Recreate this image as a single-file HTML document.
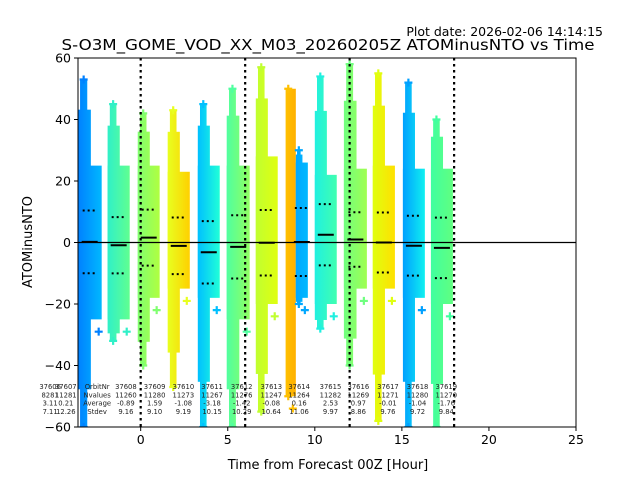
<!DOCTYPE html>
<html><head><meta charset="utf-8"><style>
html,body{margin:0;padding:0;background:#fff;}
svg{display:block;font-family:"DejaVu Sans","Liberation Sans",sans-serif;}
</style></head><body>
<svg id="chart" width="640" height="480" viewBox="0 0 640 480">
<defs id="defs"></defs>
<rect x="0" y="0" width="640" height="480" fill="#fff"/>
<text x="603" y="36" font-size="12.5" text-anchor="end">Plot date: 2026-02-06 14:14:15</text>
<text x="328" y="50" font-size="15.5" text-anchor="middle" textLength="533" lengthAdjust="spacingAndGlyphs">S-O3M_GOME_VOD_XX_M03_20260205Z ATOMinusNTO vs Time</text>
<g id="marks"></g>
<g id="axes"></g>
<text x="328" y="469" font-size="13" text-anchor="middle">Time from Forecast 00Z [Hour]</text>
<text x="32" y="242" font-size="13" text-anchor="middle" transform="rotate(-90 32 242)">ATOMinusNTO</text>
</svg>
<script>
// strips data (hours, values)
const stripStart = [-3.62,-1.90,-0.17,1.55,3.28,4.94,6.61,8.33,8.91,10.0,11.67,13.33,15.06,16.67];
const stripEnd   = [-2.24,-0.63,1.09,2.82,4.54,6.26,7.87,8.91,9.60,11.26,12.99,14.6,16.32,17.93];
const topL = [53,45,42,43,45,50,57,50,30,54,58,55,52,40];
const botL = [-60,-32,-40,-47,-60,-60,-55,-50,-20,-28,-40,-58,-60,-60];
const topR = [25,25,25,23,25,25,28,50,26,22,24,25,24,24];
const botR = [-25,-25,-18,-15,-18,-25,-20,-50,-18,-20,-15,-15,-18,-20];
const colA = ["#0080ff","#30f0c8","#80ff70","#e8ff20","#00c0ff","#50ffa0","#c0ff30","#ffc000","#00a8ff","#20f0e0","#70ff80","#e0ff10","#00a0ff","#40ffa0"];
const colB = ["#00b8ff","#60ff90","#b0ff40","#ffd000","#20ffd8","#90ff60","#e0ff10","#ffb000","#00b8ff","#40ffb0","#a0ff50","#ffe000","#10f0f0","#60ff80"];
const means = [0.21,-0.89,1.59,-1.08,-3.18,-1.42,-0.08,null,0.16,2.53,0.97,0.01,-1.04,-1.76];
const stds  = [10.2,9.16,9.10,9.19,10.15,10.29,10.64,null,11.06,9.97,8.86,9.76,9.72,9.84];
// statistics text
const orbitLabels = ["37606","37607","OrbitNr","37608","37609","37610","37611","37612","37613","37614","37615","37616","37617","37618","37619"];
const nValues = ["8281","11281","Nvalues","11260","11280","11273","11267","11276","11247","11264","11282","11269","11271","11280","11270"];
const avgText = ["3.11","0.21","Average","-0.89","1.59","-1.08","-3.18","-1.42","-0.08","0.16","2.53","0.97","-0.01","-1.04","-1.76"];
const stdText = ["7.11","12.26","Stdev","9.16","9.10","9.19","10.15","10.29","10.64","11.06","9.97","8.86","9.76","9.72","9.84"];
const labelHours = [-5.2,-4.3,-2.5,-0.85,0.8,2.45,4.1,5.8,7.5,9.1,10.9,12.5,14.2,15.9,17.55];
const xTicks = [0,5,10,15,20,25];
const yTicks = [-60,-40,-20,0,20,40,60];
const vLines = [0,6,12,18];

const X0=78,X1=576,Y0=58,Y1=427, XMIN=-3.6, XMAX=25, YMIN=-60, YMAX=60;
const sx=h=>X0+(h-XMIN)/(XMAX-XMIN)*(X1-X0);
const sy=v=>Y1-(v-YMIN)/(YMAX-YMIN)*(Y1-Y0);
const NS="http://www.w3.org/2000/svg";
function mk(t,a,p){const e=document.createElementNS(NS,t);for(const k in a)e.setAttribute(k,a[k]);p.appendChild(e);return e;}
const defs=document.getElementById('defs'), g=document.getElementById('marks'), ax=document.getElementById('axes');
const clip=mk('clipPath',{id:'pc'},defs); mk('rect',{x:X0,y:Y0,width:X1-X0,height:Y1-Y0},clip);
g.setAttribute('clip-path','url(#pc)');
stripStart.forEach((s,i)=>{
  const xa=sx(s), xb=sx(stripEnd[i]), w=xb-xa;
  const gr=mk('linearGradient',{id:'gr'+i,gradientUnits:'userSpaceOnUse',x1:xa,x2:xb,y1:0,y2:0},defs);
  mk('stop',{offset:0,'stop-color':colA[i]},gr); mk('stop',{offset:1,'stop-color':colB[i]},gr);
  const f='url(#gr'+i+')';
  // tapered tips (narrow)
  const tipT=topL[i]-(topL[i]-topR[i])*0.35, tipB=botL[i]-(botL[i]-botR[i])*0.35;
  const r0=mk('rect',{x:xa+w*0.1,y:sy(topL[i]),width:w*0.3,height:sy(botL[i])-sy(topL[i]),fill:f},g);
  
  
  const r1=mk('rect',{x:xa,y:sy(tipT),width:w*0.55,height:sy(tipB)-sy(tipT),fill:f},g);
  
  
  const r2=mk('rect',{x:xa,y:sy(topR[i]),width:w,height:sy(botR[i])-sy(topR[i]),fill:f},g);
  
  
  [[xa+w*0.25,topL[i]],[xa+w*0.25,botL[i]],[xb-3,botR[i]-4]].forEach(p=>{
    const c=mk('path',{d:`M${p[0]-4},${sy(p[1])}h8M${p[0]},${sy(p[1])-4}v8`,stroke:colA[i],'stroke-width':2.2},g);
    
    
  });
});
// zero line and vlines
const zl=mk('line',{x1:X0,x2:X1,y1:sy(0),y2:sy(0),stroke:'#000','stroke-width':1.2},g);


vLines.forEach(h=>{
  const l=mk('line',{x1:sx(h),x2:sx(h),y1:Y0,y2:Y1,stroke:'#000','stroke-width':2.2,'stroke-dasharray':'2.5,3.5'},g);
  
  
});
// means/std
means.forEach((m,i)=>{
  if(m===null)return;
  const c=(sx(stripStart[i])+sx(stripEnd[i]))/2;
  const ml=mk('line',{x1:c-8,x2:c+8,y1:sy(m),y2:sy(m),stroke:'#000','stroke-width':2},g);
  
  
  [m+stds[i],m-stds[i]].forEach(v=>{
    const sl=mk('line',{x1:c-7,x2:c+7,y1:sy(v),y2:sy(v),stroke:'#000','stroke-width':2,'stroke-dasharray':'2,3'},g);
    
    
  });
});
// stats text
labelHours.forEach((h,i)=>{
  [orbitLabels[i],nValues[i],avgText[i],stdText[i]].forEach((t,j)=>{
    const e=mk('text',{x:sx(h),y:389+j*8.3,'font-size':6.8,'text-anchor':'middle',fill:'#222'},g.parentNode);
    e.textContent=t;
    
    
  });
});
// frame and ticks
const fr=mk('rect',{x:X0,y:Y0,width:X1-X0,height:Y1-Y0,fill:'none',stroke:'#000','stroke-width':1},ax);


xTicks.forEach(t=>{
  mk('line',{x1:sx(t),x2:sx(t),y1:Y1,y2:Y1+4,stroke:'#000'},ax);
  const e=mk('text',{x:sx(t),y:Y1+17,'font-size':12.5,'text-anchor':'middle'},ax);e.textContent=t;
  
  
});
yTicks.forEach(t=>{
  mk('line',{x1:X0-4,x2:X0,y1:sy(t),y2:sy(t),stroke:'#000'},ax);
  const e=mk('text',{x:X0-7,y:sy(t)+4.5,'font-size':12.5,'text-anchor':'end'},ax);e.textContent=t<0?'\u2212'+(-t):t;
  
  
});
</script>
</body></html>
